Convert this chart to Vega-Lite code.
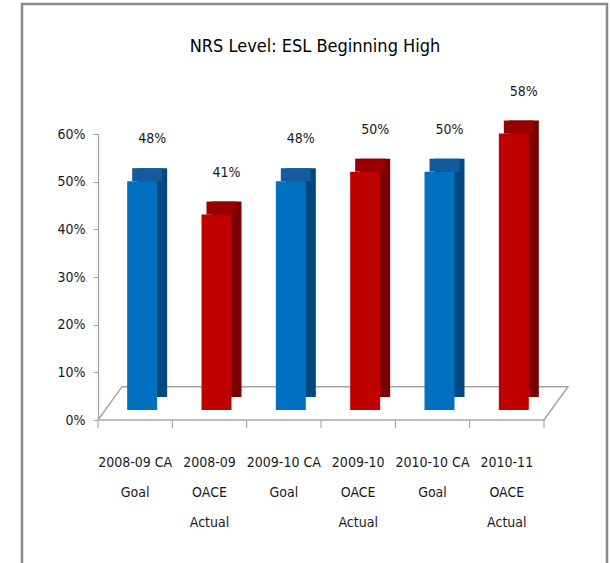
{
  "$schema": "https://vega.github.io/schema/vega-lite/v6.json",
  "width": 446,
  "height": 286,
  "autosize": "none",
  "padding": {"left": 98, "top": 134, "right": 66, "bottom": 143},
  "background": "white",
  "title": {
    "text": "NRS Level: ESL Beginning High",
    "font": "DejaVu Sans Condensed, sans-serif",
    "fontSize": 18,
    "fontWeight": "normal",
    "color": "#000000",
    "anchor": "middle",
    "frame": "group",
    "baseline": "alphabetic",
    "dx": -6,
    "offset": -67
  },
  "config": {
    "view": {"stroke": null},
    "axis": {"grid": false}
  },
  "datasets": {
    "bars": [
      {"cat": "2008-09 CA|Goal", "value": 0.48, "type": "Goal"},
      {"cat": "2008-09|OACE|Actual", "value": 0.41, "type": "Actual"},
      {"cat": "2009-10 CA|Goal", "value": 0.48, "type": "Goal"},
      {"cat": "2009-10|OACE|Actual", "value": 0.50, "type": "Actual"},
      {"cat": "2010-10 CA|Goal", "value": 0.50, "type": "Goal"},
      {"cat": "2010-11|OACE|Actual", "value": 0.58, "type": "Actual"}
    ],
    "floor": [
      {"fx": 0, "fy": 0, "o": 0},
      {"fx": 1, "fy": 0, "o": 1},
      {"fx": 1.0538, "fy": 0.07, "o": 2},
      {"fx": 0.0538, "fy": 0.07, "o": 3},
      {"fx": 0, "fy": 0, "o": 4}
    ],
    "ticks": [
      {"fx": 0}, {"fx": 0.16667}, {"fx": 0.33333}, {"fx": 0.5}, {"fx": 0.66667}, {"fx": 0.83333}, {"fx": 1}
    ],
    "frame": [
      {"x1": -0.1704, "x2": 1.1413, "y1": 0.8727, "y2": -0.31}
    ]
  },
  "layer": [
    {
      "layer": [
        {
          "data": {"name": "frame"},
          "mark": {"type": "rect", "fill": "transparent", "stroke": "#8a8a8a", "strokeWidth": 2.5},
          "encoding": {
            "x": {"field": "x1", "type": "quantitative", "scale": {"domain": [0, 1], "nice": false, "zero": false}, "axis": null},
            "x2": {"field": "x2"},
            "y": {"field": "y1", "type": "quantitative", "scale": {"domain": [0, 0.6], "nice": false}, "title": null},
            "y2": {"field": "y2"}
          }
        },
        {
          "data": {"name": "floor"},
          "mark": {"type": "line", "color": "#a6a6a6", "strokeWidth": 1.5},
          "encoding": {
            "x": {"field": "fx", "type": "quantitative", "title": null},
            "y": {"field": "fy", "type": "quantitative", "title": null},
            "order": {"field": "o"}
          }
        },
        {
          "data": {"name": "ticks"},
          "mark": {"type": "rule", "color": "#a6a6a6", "strokeWidth": 1.2},
          "encoding": {
            "x": {"field": "fx", "type": "quantitative", "title": null},
            "y": {"datum": 0, "type": "quantitative"},
            "y2": {"datum": -0.017}
          }
        }
      ]
    },
    {
      "data": {"name": "bars"},
      "encoding": {
        "x": {
          "field": "cat",
          "type": "nominal",
          "sort": null,
          "title": null,
          "scale": {"paddingInner": 0, "paddingOuter": 0},
          "axis": {
            "orient": "bottom",
            "labelExpr": "split(datum.label, '|')",
            "labelAngle": 0,
            "labelFont": "DejaVu Sans Condensed, sans-serif",
            "labelFontSize": 14,
            "labelLineHeight": 30,
            "labelColor": "#1a1a1a",
            "labelPadding": 35,
            "labelOverlap": false,
            "ticks": false,
            "domain": false
          }
        }
      },
      "layer": [
        {
          "mark": {"type": "bar", "size": 30, "xOffset": 17, "yOffset": -23, "y2Offset": -23},
          "encoding": {
            "y": {
              "field": "value",
              "type": "quantitative",
              "title": null,
              "axis": {
                "format": ".0%",
                "values": [0, 0.1, 0.2, 0.3, 0.4, 0.5, 0.6],
                "labelFont": "DejaVu Sans Condensed, sans-serif",
                "labelFontSize": 14,
                "labelColor": "#1a1a1a",
                "labelPadding": 8,
                "tickSize": 5,
                "tickColor": "#a0a0a0",
                "domainColor": "#a0a0a0",
                "domainWidth": 1.2
              }
            },
            "y2": {"datum": 0},
            "color": {"condition": {"test": "datum.type === 'Goal'", "value": "#00487f"}, "value": "#7a0000"}
          }
        },
        {
          "mark": {"type": "bar", "size": 30, "xOffset": 12, "yOffset": -23, "y2Offset": -10},
          "encoding": {
            "y": {"field": "value", "type": "quantitative", "title": null},
            "y2": {"field": "value"},
            "color": {"condition": {"test": "datum.type === 'Goal'", "value": "#155a9c"}, "value": "#960000"}
          }
        },
        {
          "mark": {"type": "bar", "size": 30, "xOffset": 7, "yOffset": -10, "y2Offset": -10},
          "encoding": {
            "y": {"field": "value", "type": "quantitative", "title": null},
            "y2": {"datum": 0},
            "color": {"condition": {"test": "datum.type === 'Goal'", "value": "#0070c0"}, "value": "#c00000"}
          }
        },
        {
          "mark": {
            "type": "text",
            "xOffset": 17,
            "yOffset": -52,
            "baseline": "middle",
            "font": "DejaVu Sans Condensed, sans-serif",
            "fontSize": 14,
            "color": "#1a1a1a"
          },
          "encoding": {
            "y": {"field": "value", "type": "quantitative", "title": null},
            "text": {"field": "value", "type": "quantitative", "format": ".0%"}
          }
        }
      ]
    }
  ],
  "resolve": {"scale": {"x": "independent"}, "axis": {"x": "independent"}}
}
